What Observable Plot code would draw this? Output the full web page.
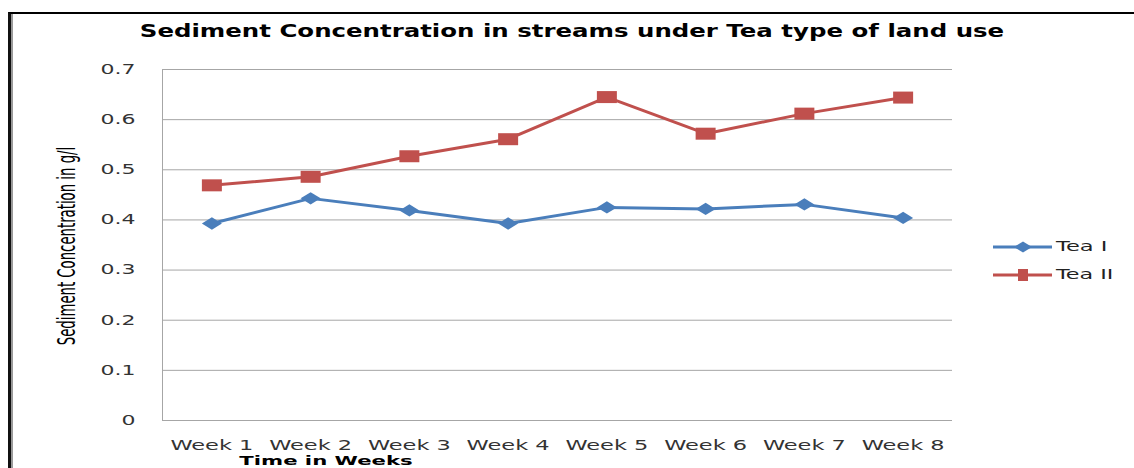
<!DOCTYPE html>
<html>
<head>
<meta charset="utf-8">
<script src="https://cdn.jsdelivr.net/npm/d3@7"></script>
<script src="https://cdn.jsdelivr.net/npm/@observablehq/plot@0.6"></script>
<style>
  html, body { margin: 0; padding: 0; background: #fff; overflow: hidden; }
  #wrap { position: relative; width: 1134px; height: 468px; overflow: hidden; background: #fff; }
  #frame { position: absolute; left: 8px; top: 12px; width: 1200px; height: 520px;
           border-left: 3px solid #111; border-top: 2px solid #000; box-shadow: inset 2px 0 0 #9a9a9a; }
  #chart { position: absolute; left: 0; top: 0; }
  .lbl { position: absolute; white-space: nowrap; line-height: 1; }
  #title { font-family: "DejaVu Sans", Verdana, sans-serif; font-weight: bold; font-size: 17px; color: #000; }
  #xtitle { font-family: "DejaVu Sans", Verdana, sans-serif; font-weight: bold; font-size: 12px; color: #000; }
  #ytitle { font-family: "Liberation Sans Narrow", "DejaVu Sans Condensed", sans-serif; font-size: 16px; color: #000; }
  .leg { font-family: "DejaVu Sans", Verdana, sans-serif; font-size: 13.7px; color: #222; }
</style>
</head>
<body>
<div id="wrap">
  <div id="frame"></div>
  <div id="chart"></div>
</div>
<script>
// ---- data ----
const weeks = ["Week 1", "Week 2", "Week 3", "Week 4", "Week 5", "Week 6", "Week 7", "Week 8"];
const teaI  = [0.393, 0.443, 0.419, 0.393, 0.425, 0.422, 0.431, 0.404];
const teaII = [0.469, 0.486, 0.527, 0.561, 0.645, 0.572, 0.612, 0.644];
const seriesNames = ["Tea I", "Tea II"];
const seriesColors = ["#4a7ebb", "#c0504d"];
const yTicks = [0, 0.1, 0.2, 0.3, 0.4, 0.5, 0.6, 0.7];
const yTickLabels = ["0", "0.1", "0.2", "0.3", "0.4", "0.5", "0.6", "0.7"];
const titleText = "Sediment Concentration in streams under Tea type of land use";
const xTitleText = "Time in Weeks";
const yTitleText = "Sediment Concentration in g/l";

// ---- table ----
const weekIdx = weeks.map((w, i) => i);
const rows = [];
[teaI, teaII].forEach((vals, s) => vals.forEach((v, i) => rows.push({i, week: weeks[i], value: v, series: seriesNames[s]})));

// wide marker symbols (the reference is horizontally stretched)
const wideDiamond = { draw(ctx) { const w = 10, h = 6.2; ctx.moveTo(0, -h); ctx.lineTo(w, 0); ctx.lineTo(0, h); ctx.lineTo(-w, 0); ctx.closePath(); } };
const wideSquare  = { draw(ctx) { const w = 10, h = 6; ctx.rect(-w, -h, 2 * w, 2 * h); } };
const symbols = [wideDiamond, wideSquare];

const gridColor = "#a6a6a6";
const plot = Plot.plot({
  width: 1134, height: 468,
  marginLeft: 162, marginRight: 182, marginTop: 69, marginBottom: 48,
  style: { fontFamily: "'DejaVu Sans', Verdana, sans-serif", fontSize: "13.7px", color: "#333", background: "transparent" },
  x: { type: "linear", domain: [-0.5, weeks.length - 0.5], label: null },
  y: { domain: [0, 0.7], label: null },
  color: { domain: seriesNames, range: seriesColors },
  marks: [
    Plot.ruleY(yTicks, { stroke: gridColor, strokeWidth: 1 }),
    Plot.ruleX([-0.5], { stroke: gridColor, strokeWidth: 1 }),
    Plot.axisY(yTicks, { tickSize: 0, tickPadding: 27, tickFormat: d => yTickLabels[yTicks.indexOf(d)], label: null }),
    Plot.axisX(weekIdx, { tickSize: 0, tickPadding: 20, tickFormat: i => weeks[i], label: null }),
    Plot.line(rows, { x: "i", y: "value", stroke: "series", strokeWidth: 3, z: "series" }),
    ...seriesNames.map((name, s) => Plot.dot(rows.filter(r => r.series === name),
      { x: "i", y: "value", fill: seriesColors[s], stroke: "none", symbol: symbols[s], r: 6 }))
  ]
});
document.getElementById("chart").appendChild(plot);

// stretch tick labels horizontally like the reference
function stretchTexts(selector, refText, targetW) {
  const texts = [...plot.querySelectorAll(selector)];
  const ref = texts.find(t => t.textContent === refText) || texts[0];
  if (!ref) return;
  const f = targetW / ref.getComputedTextLength();
  texts.forEach(t => {
    const len = t.getComputedTextLength();
    t.setAttribute("textLength", (len * f).toFixed(2));
    t.setAttribute("lengthAdjust", "spacingAndGlyphs");
  });
}
stretchTexts('g[aria-label="y-axis tick label"] text', "0.7", 35);
stretchTexts('g[aria-label="x-axis tick label"] text', "Week 1", 83);

const wrap = document.getElementById("wrap");
function addLabel(id, cls, text) {
  const el = document.createElement("div");
  if (id) el.id = id;
  el.className = "lbl " + (cls || "");
  el.textContent = text;
  wrap.appendChild(el);
  return el;
}

// title: centred at x=572, width 865, cap top ~25
const title = addLabel("title", "", titleText);
{
  const k = 865 / title.offsetWidth;
  title.style.left = "572px"; title.style.top = "23px";
  title.style.transformOrigin = "center center";
  title.style.transform = `translateX(-50%) scaleX(${k})`;
}
// x title (kept inside the picture, below the tick labels)
const xt = addLabel("xtitle", "", xTitleText);
{
  const k = 173 / xt.offsetWidth;
  xt.style.left = "326px"; xt.style.top = "454.5px";
  xt.style.transformOrigin = "center center";
  xt.style.transform = `translateX(-50%) scaleX(${k})`;
}
// y title (rotated)
const yt = addLabel("ytitle", "", yTitleText);
{
  const a = 198 / yt.offsetWidth;
  yt.style.left = "67px"; yt.style.top = "246px";
  yt.style.transformOrigin = "center center";
  yt.style.transform = `translate(-50%, -50%) rotate(-90deg) scale(${a}, 1.55)`;
}

// legend
const legendTargets = [51, 57];
const legendY = [247, 275];
seriesNames.forEach((name, s) => {
  const sw = document.createElementNS("http://www.w3.org/2000/svg", "svg");
  sw.setAttribute("width", 60); sw.setAttribute("height", 16);
  sw.style.position = "absolute"; sw.style.left = "993px"; sw.style.top = (legendY[s] - 8) + "px";
  const marker = s === 0
    ? `<path d="M30,2.5 L39,8 L30,13.5 L21,8 Z" fill="${seriesColors[s]}"/>`
    : `<rect x="25" y="2" width="10" height="12" fill="${seriesColors[s]}"/>`;
  sw.innerHTML = `<line x1="0" x2="59" y1="8" y2="8" stroke="${seriesColors[s]}" stroke-width="3"/>` + marker;
  wrap.appendChild(sw);
  const t = addLabel(null, "leg", name);
  const k = legendTargets[s] / t.offsetWidth;
  t.style.left = "1056px";
  t.style.top = (legendY[s] - 7.5) + "px";
  t.style.transformOrigin = "left center";
  t.style.transform = `scaleX(${k})`;
});
</script>
</body>
</html>
